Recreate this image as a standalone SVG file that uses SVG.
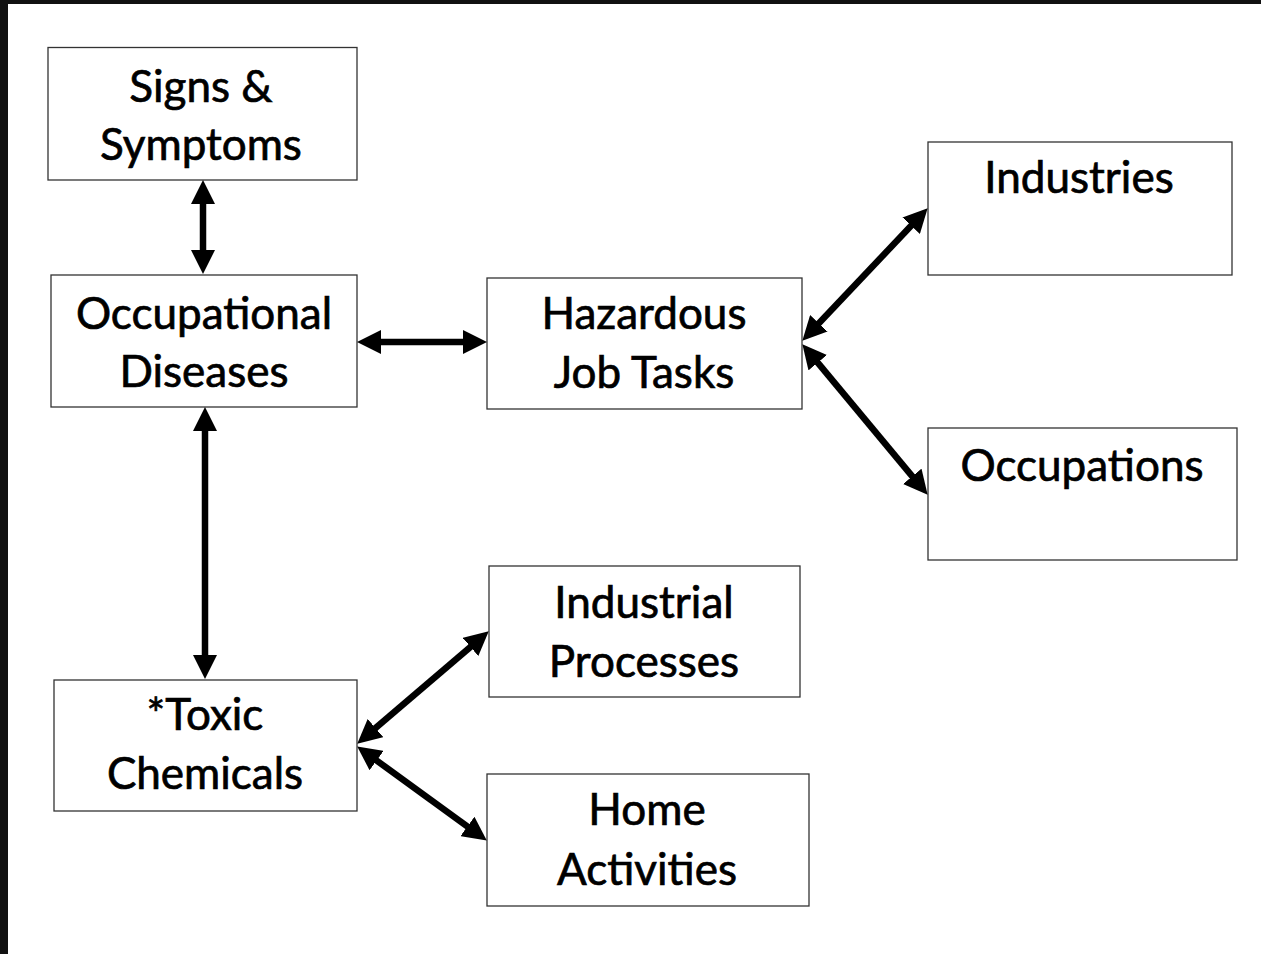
<svg xmlns="http://www.w3.org/2000/svg" width="1261" height="954" viewBox="0 0 1261 954">
<style>
.box{fill:#fff;stroke:#333;stroke-width:1.3}
.t{font-family:Lato,"Open Sans","Liberation Sans",sans-serif;font-size:44px;fill:#000;stroke:#000;stroke-width:0.7;text-anchor:middle}
.c{stroke:#000;stroke-width:6.5;fill:none;marker-start:url(#ah);marker-end:url(#ah)}
</style>
<defs>
<marker id="ah" viewBox="0 0 24 24" refX="13" refY="12" markerWidth="24" markerHeight="24" markerUnits="userSpaceOnUse" orient="auto-start-reverse">
<path d="M0,0 L24,12 L0,24 Z" fill="#000"/>
</marker>
</defs>
<rect x="0" y="0" width="1261" height="954" fill="#fff"/>
<rect x="0" y="0" width="1261" height="4" fill="#111"/>
<rect x="0" y="0" width="8" height="954" fill="#111"/>
<g id="n-signs"><rect class="box" x="48" y="47.5" width="309" height="132.5"/><text class="t" x="201" y="102">Signs &amp;</text><text class="t" x="201" y="160">Symptoms</text></g>
<g id="n-occdis"><rect class="box" x="51" y="275" width="306" height="132"/><text class="t" x="204" y="329">Occupational</text><text class="t" x="204" y="387">Diseases</text></g>
<g id="n-hazard"><rect class="box" x="487" y="278" width="315" height="131"/><text class="t" x="644" y="329">Hazardous</text><text class="t" x="644" y="388">Job Tasks</text></g>
<g id="n-industries"><rect class="box" x="928" y="142" width="304" height="133"/><text class="t" x="1079" y="193">Industries</text></g>
<g id="n-occupations"><rect class="box" x="928" y="428" width="309" height="132"/><text class="t" x="1082" y="481">Occupations</text></g>
<g id="n-indproc"><rect class="box" x="489" y="566" width="311" height="131"/><text class="t" x="644" y="618">Industrial</text><text class="t" x="644" y="677">Processes</text></g>
<g id="n-toxic"><rect class="box" x="54" y="680" width="303" height="131"/><text class="t" x="205" y="730">*Toxic</text><text class="t" x="205" y="789">Chemicals</text></g>
<g id="n-home"><rect class="box" x="487" y="774" width="322" height="132"/><text class="t" x="647" y="825">Home</text><text class="t" x="647" y="885">Activities</text></g>
<g id="connectors">
<line class="c" x1="203" y1="191" x2="203" y2="263"/>
<line class="c" x1="368" y1="342" x2="476" y2="342"/>
<line class="c" x1="205" y1="418" x2="205" y2="668"/>
<line class="c" x1="809.9" y1="332.7" x2="920.1" y2="216.3"/>
<line class="c" x1="809.4" y1="352.7" x2="920.6" y2="486.3"/>
<line class="c" x1="365.6" y1="736.5" x2="480.4" y2="638.5"/>
<line class="c" x1="366.1" y1="752.9" x2="477.9" y2="834.1"/>
</g>
</svg>
